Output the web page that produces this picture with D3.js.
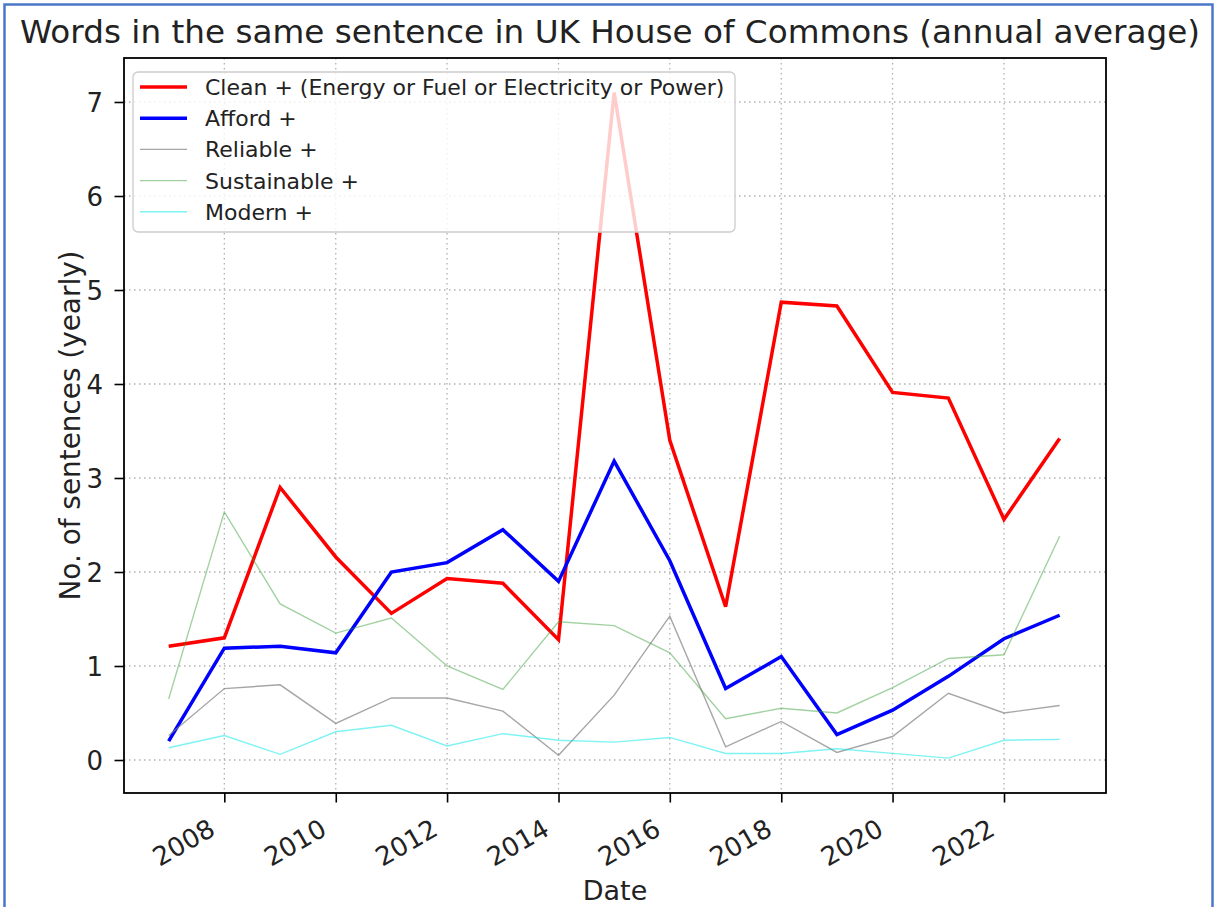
<!DOCTYPE html>
<html><head><meta charset="utf-8">
<script src="https://cdn.jsdelivr.net/npm/d3@7"></script>
<style>
body{margin:0;background:#fff}
svg{display:block}
text{font-family:"DejaVu Sans",sans-serif;fill:#222}
</style>
</head><body>
<svg id="chart" width="1218" height="907"></svg>
<script>
// ---- data ----
const years = [2007,2008,2009,2010,2011,2012,2013,2014,2015,2016,2017,2018,2019,2020,2021,2022,2023];
const cleanValues       = [1.21,1.30,2.90,2.16,1.56,1.93,1.88,1.28,7.10,3.40,1.63,4.87,4.83,3.91,3.85,2.56,3.42];
const affordValues      = [0.20,1.19,1.21,1.14,2.00,2.10,2.45,1.90,3.18,2.12,0.76,1.10,0.27,0.53,0.89,1.29,1.54];
const reliableValues    = [0.26,0.76,0.80,0.39,0.66,0.66,0.52,0.05,0.69,1.53,0.14,0.41,0.08,0.25,0.71,0.50,0.58];
const sustainableValues = [0.65,2.64,1.66,1.35,1.51,1.00,0.75,1.47,1.43,1.14,0.44,0.55,0.50,0.77,1.08,1.12,2.38];
const modernValues      = [0.13,0.26,0.06,0.30,0.37,0.15,0.28,0.21,0.19,0.24,0.07,0.07,0.12,0.07,0.02,0.21,0.22];
const seriesNames = ["Clean + (Energy or Fuel or Electricity or Power)","Afford +","Reliable +","Sustainable +","Modern +"];
const yTickValues = [0,1,2,3,4,5,6,7];
const xTickYears = [2008,2010,2012,2014,2016,2018,2020,2022];
const titleText = "Words in the same sentence in UK House of Commons (annual average)";
const xLabel = "Date";
const yLabel = "No. of sentences (yearly)";

// ---- styles ----
const seriesStyles = [
  {color:"#ff0000", width:3.5, opacity:1},
  {color:"#0000ff", width:3.5, opacity:1},
  {color:"#808080", width:1.4, opacity:0.7},
  {color:"#2e9a2e", width:1.4, opacity:0.45},
  {color:"#00e8e8", width:1.4, opacity:0.5}
];

const allValues = [cleanValues, affordValues, reliableValues, sustainableValues, modernValues];
const series = seriesNames.map((name,i)=>({
  name, style: seriesStyles[i],
  points: years.map((y,j)=>({date:new Date(y,0,1), value: allValues[i][j]}))
}));

const svg = d3.select("#chart");
const W = 1218, H = 907;
const plot = {left:124, top:58, right:1106, bottom:793};

svg.append("rect").attr("width",W).attr("height",H).attr("fill","#fff");

const x = d3.scaleTime()
  .domain([new Date(2006,2,14), new Date(2023,10,1)])
  .range([plot.left, plot.right]);
const y = d3.scaleLinear().domain([-0.351, 7.468]).range([plot.bottom, plot.top]);

// grid
const grid = svg.append("g");
xTickYears.forEach(yr=>{
  const xv = x(new Date(yr,0,1));
  grid.append("line").attr("x1",xv).attr("x2",xv).attr("y1",plot.top).attr("y2",plot.bottom)
    .attr("stroke","#b0b0b0").attr("stroke-width",1.3).attr("stroke-dasharray","1.5,3.5");
});
yTickValues.forEach(v=>{
  const yv = y(v);
  grid.append("line").attr("x1",plot.left).attr("x2",plot.right).attr("y1",yv).attr("y2",yv)
    .attr("stroke","#b0b0b0").attr("stroke-width",1.3).attr("stroke-dasharray","1.5,3.5");
});

// lines
const line = d3.line().x(d=>x(d.date)).y(d=>y(d.value));
const lineG = svg.append("g");
series.forEach(s=>{
  lineG.append("path").datum(s.points).attr("d",line)
    .attr("fill","none").attr("stroke",s.style.color).attr("stroke-width",s.style.width)
    .attr("stroke-opacity",s.style.opacity).attr("stroke-linejoin","miter");
});

// axes
const xAxis = d3.axisBottom(x).tickValues(xTickYears.map(yr=>new Date(yr,0,1)))
  .tickFormat(d3.timeFormat("%Y")).tickSize(9.5).tickSizeOuter(0);
const gx = svg.append("g").attr("transform",`translate(0,${plot.bottom})`).call(xAxis);
gx.select(".domain").remove();
gx.selectAll(".tick line").attr("stroke","#000").attr("stroke-width",1.6);
gx.selectAll(".tick text")
  .attr("font-size",26).attr("fill","#222").attr("text-anchor","end")
  .attr("x",0).attr("y",0).attr("dy",0)
  .attr("transform","translate(-8,41) rotate(-30)");

const yAxis = d3.axisLeft(y).tickValues(yTickValues).tickFormat(d3.format("d")).tickSize(9.5).tickSizeOuter(0);
const gy = svg.append("g").attr("transform",`translate(${plot.left},0)`).call(yAxis);
gy.select(".domain").remove();
gy.selectAll(".tick line").attr("stroke","#000").attr("stroke-width",1.6);
gy.selectAll(".tick text").attr("font-size",26).attr("fill","#222").attr("x",-21).attr("dy","0.36em");

// frame
svg.append("rect").attr("x",plot.left).attr("y",plot.top)
  .attr("width",plot.right-plot.left).attr("height",plot.bottom-plot.top)
  .attr("fill","none").attr("stroke","#000").attr("stroke-width",1.8);

// labels
svg.append("text").attr("x",(plot.left+plot.right)/2).attr("y",900)
  .attr("text-anchor","middle").attr("font-size",27).text(xLabel);
svg.append("text").attr("transform",`translate(80,${(plot.top+plot.bottom)/2}) rotate(-90)`)
  .attr("text-anchor","middle").attr("font-size",27.5)
  .attr("textLength",350).attr("lengthAdjust","spacingAndGlyphs").text(yLabel);
svg.append("text").attr("x",610).attr("y",43).attr("text-anchor","middle")
  .attr("font-size",31.5).attr("textLength",1180).attr("lengthAdjust","spacingAndGlyphs")
  .text(titleText);

// legend
const lg = svg.append("g");
lg.append("rect").attr("x",133).attr("y",72).attr("width",602).attr("height",160)
  .attr("rx",5).attr("fill","#fff").attr("fill-opacity",0.8)
  .attr("stroke","#cccccc").attr("stroke-width",1.3);
series.forEach((s,i)=>{
  const yy = 87 + i*31.2;
  lg.append("line").attr("x1",140).attr("x2",187).attr("y1",yy).attr("y2",yy)
    .attr("stroke",s.style.color).attr("stroke-width",s.style.width).attr("stroke-opacity",s.style.opacity);
  lg.append("text").attr("x",205).attr("y",yy).attr("dy","0.36em")
    .attr("font-size",22).text(s.name);
});

// outer blue frame
svg.append("rect").attr("x",4.5).attr("y",4.5).attr("width",1208).attr("height",950)
  .attr("fill","none").attr("stroke","#4a78c8").attr("stroke-width",2.5);
</script>
</body></html>
